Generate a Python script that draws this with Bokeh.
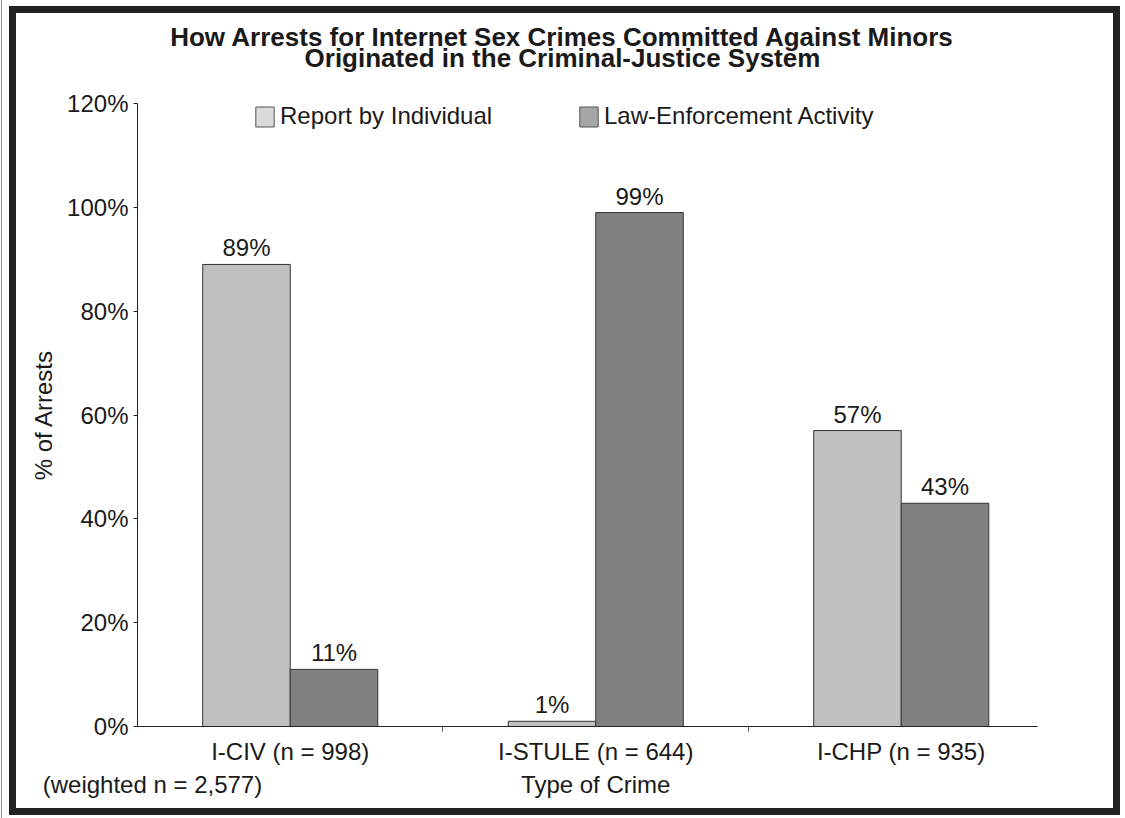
from bokeh.plotting import figure
from bokeh.models import (Range1d, FixedTicker, PrintfTickFormatter, ColumnDataSource,
                          LabelSet, Legend, LegendItem, LinearAxis)
from bokeh.core.properties import value
from bokeh.transform import dodge
from bokeh.embed import file_html
from bokeh.resources import INLINE

# ---- data ----
categories = ["I-CIV (n = 998)", "I-STULE (n = 644)", "I-CHP (n = 935)"]
report_by_individual = [89, 1, 57]
law_enforcement = [11, 99, 43]
y_ticks = [0, 20, 40, 60, 80, 100, 120]
series_names = ["Report by Individual", "Law-Enforcement Activity"]
title_lines = ["How Arrests for Internet Sex Crimes Committed Against Minors",
               "Originated in the Criminal-Justice System"]
note_text = "(weighted n = 2,577)"
x_title = "Type of Crime"
y_title = "% of Arrests"

FONT = "Liberation Sans"
TXT = "#1a1a1a"
FS = "24px"

xpos = [i + 0.5 for i in range(len(categories))]
src = ColumnDataSource(dict(
    x=xpos, cat=categories,
    rep=report_by_individual, law=law_enforcement,
    rep_lbl=[f"{v}%" for v in report_by_individual],
    law_lbl=[f"{v}%" for v in law_enforcement],
))

BW = 0.2865
p = figure(frame_width=900, frame_height=623, width=1097, height=795,
           x_range=Range1d(0, 2.946), y_range=Range1d(0, 120),
           output_backend="svg", toolbar_location=None, title_location=None,
           min_border_left=121, min_border_right=76,
           min_border_top=90, min_border_bottom=82,
           background_fill_color="white", border_fill_color="white",
           styles={"border": "7px solid #222", "margin-left": "9px", "margin-top": "6px",
                   "outline": "1px solid #8a8a8a", "outline-offset": "7px"})
p.outline_line_color = None
p.grid.grid_line_color = None

# bars
p.vbar(x=dodge("x", -BW / 2, range=p.x_range), top="rep", width=BW, bottom=0,
       source=src, fill_color="#c0c0c0", line_color="#333333", line_width=1)
p.vbar(x=dodge("x", BW / 2, range=p.x_range), top="law", width=BW, bottom=0,
       source=src, fill_color="#808080", line_color="#333333", line_width=1)

for col, lbl, off in (("rep", "rep_lbl", -BW / 2), ("law", "law_lbl", BW / 2)):
    p.add_layout(LabelSet(x=dodge("x", off, range=p.x_range), y=col, text=lbl, source=src,
                          y_offset=8, text_align="center", text_baseline="alphabetic",
                          text_font=value(FONT), text_font_size=value(FS),
                          text_color=TXT))

# category axis
xa = p.xaxis[0]
xa.ticker = FixedTicker(ticks=xpos, minor_ticks=[1, 2])
xa.major_label_overrides = {x: c for x, c in zip(xpos, categories)}
xa.major_tick_out = 0
xa.major_tick_in = 0
xa.minor_tick_out = 5
xa.minor_tick_in = 0
xa.minor_tick_line_color = "#555555"
xa.axis_line_color = "#222222"
xa.major_label_standoff = 6
xa.major_label_text_font = FONT
xa.major_label_text_font_size = FS
xa.major_label_text_color = TXT


def text_row(ticks, labels, standoff, side, size=FS, style="normal", tick_out=6):
    ax = LinearAxis(ticker=FixedTicker(ticks=ticks, minor_ticks=[]),
                    major_label_overrides=dict(zip(ticks, labels)),
                    axis_line_color=None, major_tick_line_color=None,
                    minor_tick_line_color=None, major_label_standoff=standoff,
                    major_tick_out=tick_out, minor_tick_out=0,
                    major_label_text_font=FONT, major_label_text_font_size=size,
                    major_label_text_font_style=style, major_label_text_color=TXT)
    p.add_layout(ax, side)


# second text row under the axis: sample note and axis title
note_x = 0.049
xtitle_x = 1.5
text_row([note_x, xtitle_x], [note_text, x_title], -3, "below")

# title: two centred lines above the plot (line 2 nearest the frame)
title_x = 1.391
text_row([title_x], [title_lines[1]], 31, "above", "26px", "bold", 0)
text_row([title_x], [title_lines[0]], -12, "above", "26px", "bold", 0)

ya = p.yaxis[0]
ya.ticker = FixedTicker(ticks=y_ticks)
ya.formatter = PrintfTickFormatter(format="%d%%")
ya.minor_tick_line_color = None
ya.major_tick_out = 4
ya.major_tick_in = 0
ya.major_tick_line_color = "#222222"
ya.axis_line_color = "#222222"
ya.major_label_standoff = 5
ya.major_label_text_font = FONT
ya.major_label_text_font_size = FS
ya.major_label_text_color = TXT
ya.axis_label = y_title
ya.axis_label_text_font = FONT
ya.axis_label_text_font_size = FS
ya.axis_label_text_font_style = "normal"
ya.axis_label_text_color = TXT
ya.axis_label_standoff = 7

# legend (proxy swatches, lighter than the bars as in the original; outside the x range)
sw1 = p.vbar(x=[-5], top=[1], width=0.1, fill_color="#dadada", line_color="#555555")
sw2 = p.vbar(x=[-5], top=[1], width=0.1, fill_color="#a6a6a6", line_color="#555555")
for r, name, lx in ((sw1, series_names[0], 116), (sw2, series_names[1], 440)):
    lg = Legend(items=[LegendItem(label=name, renderers=[r])], location=(lx, 596),
                glyph_width=23, glyph_height=25, label_standoff=4, padding=0, margin=0,
                border_line_color=None, background_fill_alpha=0,
                label_text_font=FONT, label_text_font_size=FS, label_text_color=TXT)
    p.add_layout(lg, "center")

open("out.html", "w").write(file_html(p, INLINE))
